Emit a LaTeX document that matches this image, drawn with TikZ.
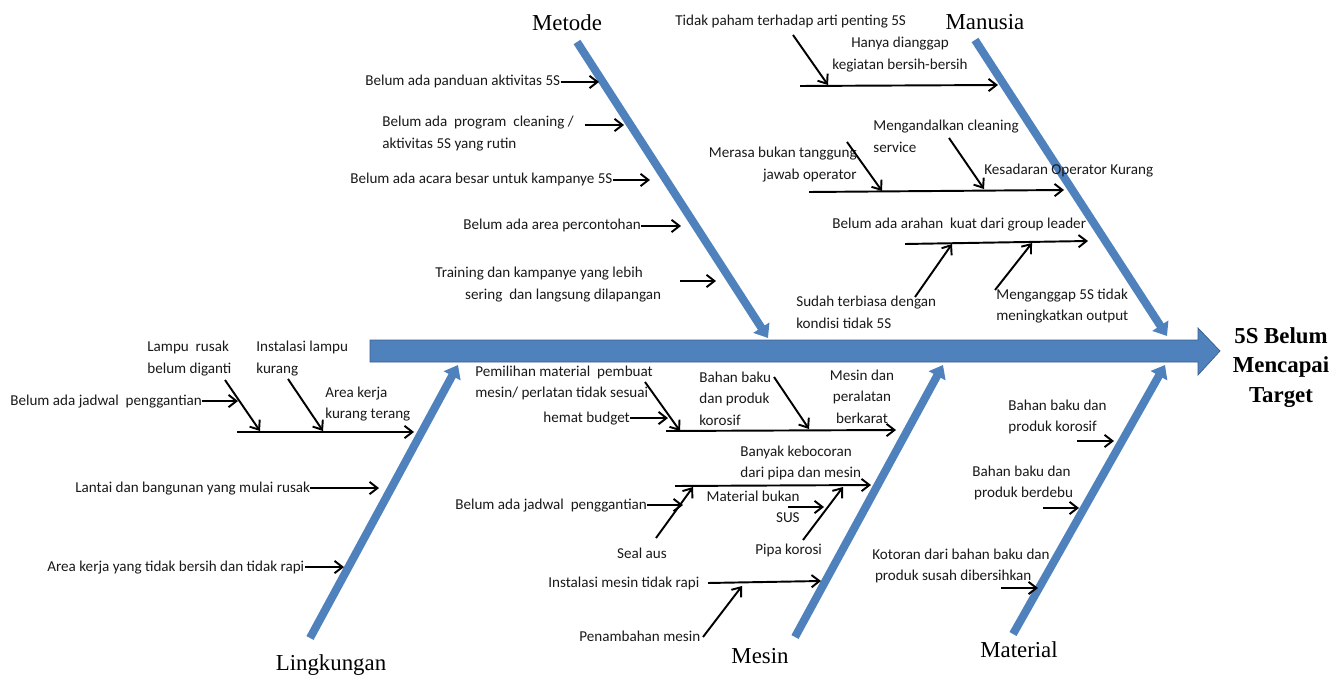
\documentclass[tikz,border=0pt]{standalone}
\usepackage{fontspec}
\newfontfamily\calfont{Carlito}
\newfontfamily\tnrfont{Liberation Serif}
\usetikzlibrary{arrows.meta}
\definecolor{bone}{RGB}{79,129,189}
\definecolor{bonedark}{RGB}{56,93,138}
\newcommand{\mlines}[2]{\begin{tabular}[t]{@{}#1@{}}#2\end{tabular}}
\begin{document}
\begin{tikzpicture}[x=0.02cm,y=-0.02cm,
  lbl/.style={font=\calfont\fontsize{8.6}{12.5}\selectfont, inner sep=0pt, text=black!90},
  cat/.style={font=\tnrfont\fontsize{13}{17}\selectfont, inner sep=0pt, anchor=base},
  arr/.style={line width=1.1pt, -{Straight Barb[length=4.5pt,width=7pt]}},
  bonearr/.style={line width=4.6pt, draw=bone, -{Triangle[length=7pt,width=10.5pt]}}]
\useasboundingbox (0,0) rectangle (1331,675);
% ---------- spine ----------
\fill[bone, draw=bonedark, line width=0.4pt] (370,340) -- (1198,340) -- (1198,328) -- (1220,351)
  -- (1198,375) -- (1198,362) -- (370,362) -- cycle;
\node[font=\tnrfont\bfseries\fontsize{13}{17}\selectfont, inner sep=0pt, anchor=base] (effect) at (1281,343)
  {\mlines{c}{5S Belum\\[-0.2pt] Mencapai\\ Target}};
% ---------- bones ----------
\coordinate (mtA) at (577,42);   \coordinate (mtB) at (768,338);
\coordinate (muA) at (975,40);   \coordinate (muB) at (1167,336);
\coordinate (liA) at (310,638);  \coordinate (liB) at (458,365);
\coordinate (meA) at (795,637);  \coordinate (meB) at (943,365);
\coordinate (maA) at (1013,634); \coordinate (maB) at (1165,365);
\draw[bonearr] (mtA) -- (mtB);
\draw[bonearr] (muA) -- (muB);
\draw[bonearr] (liA) -- (liB);
\draw[bonearr] (meA) -- (meB);
\draw[bonearr] (maA) -- (maB);
\node[cat] (metode) at (567,31) {Metode};
\node[cat] (manusia) at (985,30) {Manusia};
\node[cat] (lingk) at (331,670) {Lingkungan};
\node[cat] (mesin) at (760,663) {Mesin};
\node[cat] (material) at (1019,657) {Material};
% ---------- Metode ----------
\node[lbl, anchor=base west] (m1) at (365,86) {Belum ada panduan aktivitas 5S};
\coordinate (m1t) at (599,82);
\draw[arr] (m1.east) -- (m1.east -| m1t);
\node[lbl, anchor=base west] (m2) at (382,127) {\mlines{l}{Belum ada\ \ program\ \ cleaning /\\ aktivitas 5S yang rutin}};
\coordinate (m2s) at (585,125); \coordinate (m2t) at (624,125);
\draw[arr] (m2s) -- (m2t);
\node[lbl, anchor=base west] (m3) at (350,184) {Belum ada acara besar untuk kampanye 5S};
\coordinate (m3t) at (650,180);
\draw[arr] (m3.east) -- (m3.east -| m3t);
\node[lbl, anchor=base west] (m4) at (463,230) {Belum ada area percontohan};
\coordinate (m4t) at (681,226);
\draw[arr] (m4.east) -- (m4.east -| m4t);
\node[lbl, anchor=base west] (m5) at (435,278) {\mlines{l}{Training dan kampanye yang lebih\\ \hspace*{17pt}sering\ \ dan langsung dilapangan}};
\coordinate (m5s) at (680,281); \coordinate (m5t) at (716,281);
\draw[arr] (m5s) -- (m5t);
% ---------- Manusia ----------
\node[lbl, anchor=base west] (h1) at (675,26) {Tidak paham terhadap arti penting 5S};
\node[lbl, anchor=base] (h2) at (900,48) {\mlines{c}{Hanya dianggap\\ kegiatan bersih-bersih}};
\coordinate (h1a) at (793,35); \coordinate (h1b) at (828,85);
\coordinate (h2s) at (800,86); \coordinate (h2t) at (998,85);
\draw[arr] (h2s) -- (h2t);
\draw[arr] (h1a) -- (h1b);
\node[lbl, anchor=base west] (h3) at (873,131) {\mlines{l}{Mengandalkan cleaning\\ service}};
\node[lbl, anchor=base east] (h4) at (857,158) {\mlines{r}{Merasa bukan tanggung\\ jawab operator}};
\node[lbl, anchor=base west] (h5) at (984,175) {Kesadaran Operator Kurang};
\coordinate (h5s) at (809,192); \coordinate (h5t) at (1064,190);
\draw[arr] (h5s) -- (h5t);
\coordinate (h4a) at (847,142); \coordinate (h4b) at (882,191);
\draw[arr] (h4a) -- (h4b);
\coordinate (h3a) at (949,138); \coordinate (h3b) at (984,189);
\draw[arr] (h3a) -- (h3b);
\node[lbl, anchor=base west] (h6) at (832,229) {Belum ada arahan\ \ kuat dari group leader};
\coordinate (h6s) at (905,244); \coordinate (h6t) at (1088,241);
\draw[arr] (h6s) -- (h6t);
\node[lbl, anchor=base west] (h7) at (796,307) {\mlines{l}{Sudah terbiasa dengan\\ kondisi tidak 5S}};
\coordinate (h7a) at (915,297); \coordinate (h7b) at (952,244);
\draw[arr] (h7a) -- (h7b);
\node[lbl, anchor=base west] (h8) at (996,299) {\mlines{l}{Menganggap 5S tidak\\ meningkatkan output}};
\coordinate (h8a) at (995,290); \coordinate (h8b) at (1032,243);
\draw[arr] (h8a) -- (h8b);
% ---------- Lingkungan ----------
\node[lbl, anchor=base west] (l1) at (147,352) {\mlines{l}{Lampu\ \ rusak\\ belum diganti}};
\node[lbl, anchor=base west] (l2) at (256,352) {\mlines{l}{Instalasi lampu\\ kurang}};
\node[lbl, anchor=base west] (l3) at (10,405) {Belum ada jadwal\ \ penggantian};
\coordinate (l3t) at (238,401);
\draw[arr] (l3.east) -- (l3.east -| l3t);
\node[lbl, anchor=base west] (l4) at (325,397) {\mlines{l}{Area kerja\\ kurang terang}};
\coordinate (l4s) at (237,432); \coordinate (l4t) at (414,432);
\draw[arr] (l4s) -- (l4t);
\coordinate (l1a) at (225,380); \coordinate (l1b) at (260,431);
\draw[arr] (l1a) -- (l1b);
\coordinate (l2a) at (288,379); \coordinate (l2b) at (323,431);
\draw[arr] (l2a) -- (l2b);
\node[lbl, anchor=base west] (l5) at (75,492) {Lantai dan bangunan yang mulai rusak};
\coordinate (l5t) at (379,488);
\draw[arr] (l5.east) -- (l5.east -| l5t);
\node[lbl, anchor=base west] (l6) at (47,571) {Area kerja yang tidak bersih dan tidak rapi};
\coordinate (l6t) at (344,567);
\draw[arr] (l6.east) -- (l6.east -| l6t);
% ---------- Mesin ----------
\node[lbl, anchor=base west] (s1) at (475,376) {\mlines{l}{Pemilihan material\ \ pembuat\\ mesin/ perlatan tidak sesuai}};
\node[lbl, anchor=base west] (s2) at (543,422) {hemat budget};
\coordinate (s2t) at (668,418);
\draw[arr] (s2.east) -- (s2.east -| s2t);
\node[lbl, anchor=base west] (s3) at (699,382) {\mlines{l}{Bahan baku\\ dan produk\\ korosif}};
\node[lbl, anchor=base] (s4) at (862,380) {\mlines{c}{Mesin dan\\ peralatan\\ berkarat}};
\coordinate (s0s) at (666,431); \coordinate (s0t) at (896,430);
\draw[arr] (s0s) -- (s0t);
\coordinate (s1a) at (645,382); \coordinate (s1b) at (680,431);
\draw[arr] (s1a) -- (s1b);
\coordinate (s3a) at (774,377); \coordinate (s3b) at (809,429);
\draw[arr] (s3a) -- (s3b);
\node[lbl, anchor=base west] (s5) at (740,456) {\mlines{l}{Banyak kebocoran\\ dari pipa dan mesin}};
\coordinate (s5s) at (675,486); \coordinate (s5t) at (871,485);
\draw[arr] (s5s) -- (s5t);
\node[lbl, anchor=base west] (s6) at (455,509) {Belum ada jadwal\ \ penggantian};
\coordinate (s6t) at (683,505);
\draw[arr] (s6.east) -- (s6.east -| s6t);
\node[lbl, anchor=base] (s7) at (642,558) {Seal aus};
\coordinate (s7a) at (656,538); \coordinate (s7b) at (693,487);
\draw[arr] (s7a) -- (s7b);
\node[lbl, anchor=base east] (s8) at (800,501) {\mlines{r}{Material bukan\\ SUS}};
\coordinate (s8s) at (788,507); \coordinate (s8t) at (824,507);
\draw[arr] (s8s) -- (s8t);
\node[lbl, anchor=base west] (s9) at (755,554) {Pipa korosi};
\coordinate (s9a) at (803,540); \coordinate (s9b) at (843,487);
\draw[arr] (s9a) -- (s9b);
\node[lbl, anchor=base west] (s10) at (548,587) {Instalasi mesin tidak rapi};
\coordinate (s10s) at (708,583); \coordinate (s10t) at (821,581);
\draw[arr] (s10s) -- (s10t);
\node[lbl, anchor=base west] (s11) at (579,641) {Penambahan mesin};
\coordinate (s11a) at (703,637); \coordinate (s11b) at (742,586);
\draw[arr] (s11a) -- (s11b);
% ---------- Material ----------
\node[lbl, anchor=base west] (t1) at (1008,410) {\mlines{l}{Bahan baku dan\\ produk korosif}};
\coordinate (t1s) at (1077,441); \coordinate (t1t) at (1114,441);
\draw[arr] (t1s) -- (t1t);
\node[lbl, anchor=base west] (t2) at (972,476) {\mlines{l}{Bahan baku dan\\ \hspace*{1pt}produk berdebu}};
\coordinate (t2s) at (1043,508); \coordinate (t2t) at (1079,508);
\draw[arr] (t2s) -- (t2t);
\node[lbl, anchor=base west] (t3) at (872,559) {\mlines{l}{Kotoran dari bahan baku dan\\ \hspace*{1.5pt}produk susah dibersihkan}};
\coordinate (t3s) at (1001,588); \coordinate (t3t) at (1038,588);
\draw[arr] (t3s) -- (t3t);
\end{tikzpicture}
\end{document}
